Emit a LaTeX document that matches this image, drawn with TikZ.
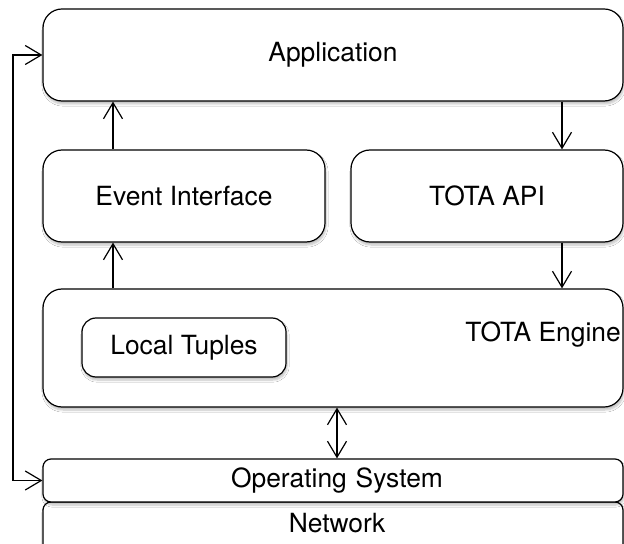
\documentclass[tikz,border=0pt]{standalone}
\usepackage{fontspec}
\setmainfont{TeX Gyre Heros}
\usetikzlibrary{arrows.meta,shadows.blur}
\begin{document}
\begin{tikzpicture}[x=1bp,y=-1bp,
  box/.style={draw=black,line width=1.2bp,fill=white,rounded corners=19bp,
    blur shadow={shadow blur steps=6,shadow xshift=1bp,shadow yshift=-3bp,shadow opacity=25},
    inner sep=0pt,font=\fontsize{26.5}{30}\selectfont},
  arr/.style={line width=1.2bp,-{Straight Barb[length=16bp,width=19bp,line width=1.2bp]}},
  darr/.style={line width=1.2bp,{Straight Barb[length=16bp,width=19bp,line width=1.2bp]}-{Straight Barb[length=16bp,width=19bp,line width=1.2bp]}},
  lbl/.style={inner sep=0pt,font=\fontsize{26.5}{30}\selectfont}]
\useasboundingbox[fill=white] (0,0) rectangle (624,544);
\node[box,minimum width=580bp,minimum height=92bp] (app) at (333,55) {Application};
\node[box,minimum width=282bp,minimum height=92bp] (ei) at (184,196) {Event Interface};
\node[box,minimum width=272bp,minimum height=92bp] (api) at (487,196) {TOTA API};
\node[box,minimum width=580bp,minimum height=118bp] (eng) at (333,348) {};
\node[lbl,anchor=base east] (engl) at (621,341) {TOTA Engine};
\node[box,rounded corners=14bp,minimum width=204bp,minimum height=59bp] (lt) at (184,347.5) {Local Tuples};
\node[box,rounded corners=8bp,minimum width=580bp,minimum height=50bp] (net) at (333,527) {};
\node[lbl] (netl) at (337,523) {Network};
\node[box,rounded corners=8bp,minimum width=580bp,minimum height=43bp,text width=580bp,align=center] (os) at (333,480.5) {\hspace*{8bp}Operating System};
\coordinate (xl) at (113,0);
\coordinate (xr) at (562,0);
\coordinate (xm) at (337,0);
\draw[arr] (ei.north -| xl) -- (app.south -| xl);
\draw[arr] (app.south -| xr) -- (api.north -| xr);
\draw[arr] (eng.north -| xl) -- (ei.south -| xl);
\draw[arr] (api.south -| xr) -- (eng.north -| xr);
\draw[darr] (eng.south -| xm) -- (os.north -| xm);
\coordinate (lp) at (13,0);
\draw[darr] (os.west) -- (os.west -| lp) -- (app.west -| lp) -- (app.west);
\end{tikzpicture}
\end{document}
